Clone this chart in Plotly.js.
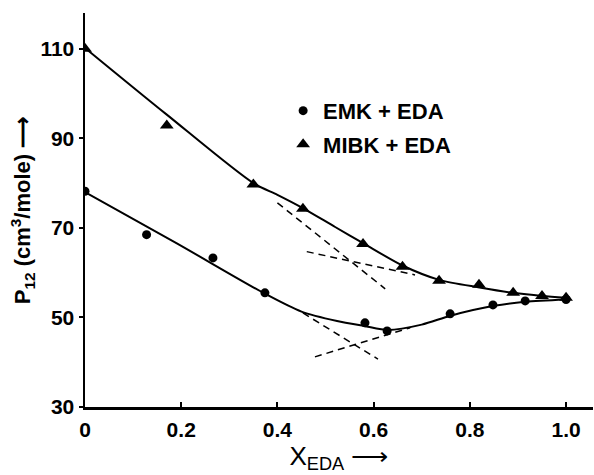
<!DOCTYPE html>
<html>
<head>
<meta charset="utf-8">
<script src="https://cdn.plot.ly/plotly-3.0.1.min.js"></script>
<style>html,body{margin:0;padding:0;background:#fff;}#chart{width:594px;height:475px;}</style>
</head>
<body>
<div id="chart"></div>
<script>
// Measured points
const emkX = [0, 0.128, 0.266, 0.374, 0.582, 0.628, 0.759, 0.848, 0.915, 1.0];
const emkY = [78.2, 68.5, 63.3, 55.5, 48.8, 47.0, 50.8, 52.8, 53.7, 54.0];
const mibkX = [0, 0.17, 0.35, 0.453, 0.578, 0.66, 0.736, 0.819, 0.89, 0.95, 1.0];
const mibkY = [110.0, 92.9, 79.7, 74.3, 66.4, 61.3, 58.2, 57.3, 55.5, 54.8, 54.4];

// Smooth drawn curves
const emkCurveX = [0, 0.19, 0.374, 0.45, 0.524, 0.58, 0.63, 0.7, 0.76, 0.85, 0.915, 1.0];
const emkCurveY = [78.0, 66.6, 55.3, 51.3, 49.2, 48.1, 47.2, 48.4, 50.4, 52.6, 53.5, 54.0];
const mibkCurveX = [0, 0.17, 0.35, 0.4, 0.45, 0.52, 0.578, 0.66, 0.736, 0.82, 0.89, 0.95, 1.0];
const mibkCurveY = [110.2, 95.3, 80.0, 77.4, 74.6, 70.2, 66.6, 61.6, 58.4, 56.7, 55.5, 54.8, 54.4];

// Dashed tangent lines
const emkDash1X = [0.453, 0.609];
const emkDash1Y = [51.0, 40.7];
const emkDash2X = [0.478, 0.676];
const emkDash2Y = [41.2, 47.7];
const mibkDash1X = [0.40, 0.624];
const mibkDash1Y = [75.6, 56.4];
const mibkDash2X = [0.461, 0.686];
const mibkDash2Y = [64.7, 59.5];

// Axis ticks
const xTickVals = [0, 0.2, 0.4, 0.6, 0.8, 1.0];
const xTickText = ["0", "0.2", "0.4", "0.6", "0.8", "1.0"];
const yTickVals = [30, 50, 70, 90, 110];
const yTickText = ["30", "50", "70", "90", "110"];

const seriesNames = ["EMK + EDA", "MIBK + EDA"];

const FONT = "'Liberation Sans', Arial, sans-serif";
const solid = {color: "#000", width: 2, shape: "spline", smoothing: 0.8};
const dash = {color: "#000", width: 1.5, dash: "7px,5px"};

const traces = [
  {x: emkCurveX, y: emkCurveY, mode: "lines", line: solid, showlegend: false, hoverinfo: "skip"},
  {x: mibkCurveX, y: mibkCurveY, mode: "lines", line: solid, showlegend: false, hoverinfo: "skip"},
  {x: emkDash1X, y: emkDash1Y, mode: "lines", line: dash, showlegend: false},
  {x: emkDash2X, y: emkDash2Y, mode: "lines", line: dash, showlegend: false},
  {x: mibkDash1X, y: mibkDash1Y, mode: "lines", line: dash, showlegend: false},
  {x: mibkDash2X, y: mibkDash2Y, mode: "lines", line: dash, showlegend: false},
  {x: emkX, y: emkY, mode: "markers", name: seriesNames[0], legendgroup: "a",
   marker: {symbol: "circle", size: 9, color: "#000"}},
  {x: mibkX, y: mibkY, mode: "markers", name: seriesNames[1], legendgroup: "b",
   marker: {symbol: "triangle-up", size: 12, color: "#000"}}
];

const layout = {
  width: 594, height: 475,
  margin: {l: 85, r: 1, t: 13, b: 68},
  paper_bgcolor: "#fff", plot_bgcolor: "#fff",
  font: {family: FONT, color: "#000", size: 21},
  showlegend: true,
  legend: {
    x: 0.39, y: 0.805, xanchor: "left", yanchor: "top",
    bgcolor: "rgba(0,0,0,0)",
    font: {family: FONT, size: 22, color: "#000", weight: "bold"},
    itemwidth: 30, traceorder: "grouped", tracegroupgap: 2
  },
  xaxis: {
    range: [0, 1.056], showgrid: false, zeroline: false,
    showline: true, linecolor: "#000", linewidth: 2.5,
    ticks: "inside", ticklen: 5, tickwidth: 2, tickcolor: "#000",
    tickvals: xTickVals, ticktext: xTickText,
    tickfont: {family: FONT, size: 21, weight: "bold"},
    ticklabelstandoff: 2,
    title: {text: "X<sub>EDA</sub> \u27F6", font: {family: FONT, size: 26}, standoff: 0}
  },
  yaxis: {
    range: [30, 118], showgrid: false, zeroline: false,
    showline: true, linecolor: "#000", linewidth: 2.5,
    ticks: "outside", ticklen: 4, tickwidth: 2, tickcolor: "#000",
    tickvals: yTickVals, ticktext: yTickText,
    tickfont: {family: FONT, size: 21, weight: "bold"},
    title: {text: "P<sub>12</sub> (cm<sup>3</sup>/mole) \u27F6", font: {family: FONT, size: 22, weight: "bold"}, standoff: 4}
  }
};

Plotly.newPlot("chart", traces, layout, {displayModeBar: false, staticPlot: true});
</script>
</body>
</html>
